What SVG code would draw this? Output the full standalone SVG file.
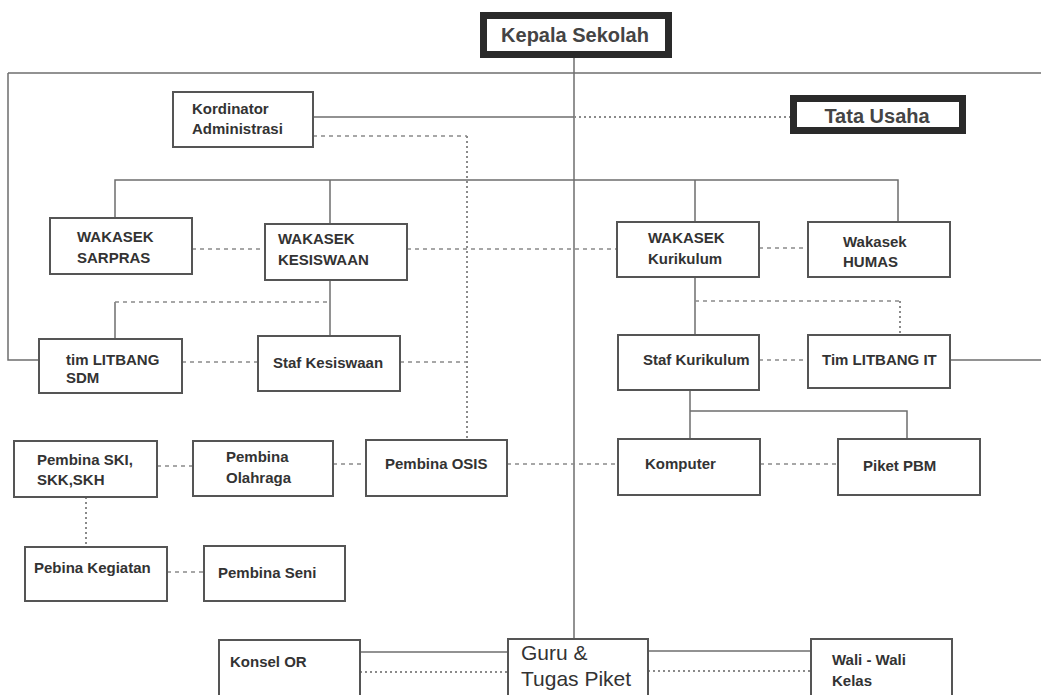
<svg xmlns="http://www.w3.org/2000/svg" width="1041" height="695" viewBox="0 0 1041 695">
<style>
.bg{fill:#ffffff}
.box{fill:#ffffff;stroke:#555555;stroke-width:2}
.thick{fill:#ffffff;stroke:#2a2a2a;stroke-width:7}
.t{font-family:"Liberation Sans",Arial,sans-serif;font-weight:bold;font-size:15px;fill:#333333}
.big{font-family:"Liberation Sans",Arial,sans-serif;font-weight:bold;font-size:20px;fill:#444444}
.reg{font-family:"Liberation Sans",Arial,sans-serif;font-size:21px;fill:#333333}
.solid{fill:none;stroke:#6e6e6e;stroke-width:1.5}
.dash{fill:none;stroke:#8a8a8a;stroke-width:1.5;stroke-dasharray:4 4}
.dot{fill:none;stroke:#8a8a8a;stroke-width:2;stroke-dasharray:2 3}
</style>
<rect class="bg" x="0" y="0" width="1041" height="695"/>
<g id="connectors">
<path class="solid" d="M574 57V639"/>
<path class="solid" d="M8 73H1041"/>
<path class="solid" d="M8 73V360H39"/>
<path class="solid" d="M313 117H574"/>
<path class="solid" d="M115 218V180H898V222M330 180V224M695 180V222"/>
<path class="solid" d="M330 280V336"/>
<path class="solid" d="M115 302V339"/>
<path class="solid" d="M695 277V335"/>
<path class="solid" d="M950 360H1041"/>
<path class="solid" d="M690 390V439M690 411H907V439"/>
<path class="solid" d="M360 652H508"/>
<path class="solid" d="M648 651H811"/>
<path class="dash" d="M313 136H467"/>
<path class="dot" d="M467 136V440"/>
<path class="dot" d="M574 117H790"/>
<path class="dash" d="M192 249H265"/>
<path class="dash" d="M407 249H617"/>
<path class="dash" d="M759 248H808"/>
<path class="dash" d="M115 302H330"/>
<path class="dash" d="M695 301H900"/>
<path class="dot" d="M900 301V335"/>
<path class="dash" d="M182 362H258"/>
<path class="dash" d="M400 362H467"/>
<path class="dash" d="M759 360H808"/>
<path class="dash" d="M157 466H193"/>
<path class="dash" d="M333 464H366"/>
<path class="dash" d="M507 464H618"/>
<path class="dash" d="M760 464H838"/>
<path class="dot" d="M86 497V547"/>
<path class="dash" d="M167 572H204"/>
<path class="dot" d="M360 672H508"/>
<path class="dot" d="M648 671H811"/>
</g>
<g id="kepala-sekolah">
<rect class="thick" x="483.5" y="15.5" width="185" height="39"/>
<text class="big" x="575" y="42" text-anchor="middle">Kepala Sekolah</text>
</g>
<g id="tata-usaha">
<rect class="thick" x="793.5" y="98.5" width="169" height="32"/>
<text class="big" x="877" y="123" text-anchor="middle">Tata Usaha</text>
</g>
<g id="kordinator-administrasi">
<rect class="box" x="173" y="92" width="140" height="55"/>
<text class="t" x="192" y="114">Kordinator</text>
<text class="t" x="192" y="134">Administrasi</text>
</g>
<g id="wakasek-sarpras">
<rect class="box" x="50" y="218" width="142" height="56"/>
<text class="t" x="77" y="242">WAKASEK</text>
<text class="t" x="77" y="263">SARPRAS</text>
</g>
<g id="wakasek-kesiswaan">
<rect class="box" x="265" y="224" width="142" height="56"/>
<text class="t" x="278" y="244">WAKASEK</text>
<text class="t" x="278" y="265">KESISWAAN</text>
</g>
<g id="wakasek-kurikulum">
<rect class="box" x="617" y="222" width="142" height="55"/>
<text class="t" x="648" y="243">WAKASEK</text>
<text class="t" x="648" y="264">Kurikulum</text>
</g>
<g id="wakasek-humas">
<rect class="box" x="808" y="222" width="142" height="55"/>
<text class="t" x="843" y="247">Wakasek</text>
<text class="t" x="843" y="267">HUMAS</text>
</g>
<g id="tim-litbang-sdm">
<rect class="box" x="39" y="339" width="143" height="54"/>
<text class="t" x="66" y="365">tim LITBANG</text>
<text class="t" x="66" y="383">SDM</text>
</g>
<g id="staf-kesiswaan">
<rect class="box" x="258" y="336" width="142" height="55"/>
<text class="t" x="273" y="368">Staf Kesiswaan</text>
</g>
<g id="staf-kurikulum">
<rect class="box" x="618" y="335" width="141" height="55"/>
<text class="t" x="643" y="365">Staf Kurikulum</text>
</g>
<g id="tim-litbang-it">
<rect class="box" x="808" y="335" width="142" height="53"/>
<text class="t" x="822" y="365">Tim LITBANG IT</text>
</g>
<g id="pembina-ski">
<rect class="box" x="14" y="441" width="143" height="56"/>
<text class="t" x="37" y="465">Pembina SKI,</text>
<text class="t" x="37" y="485">SKK,SKH</text>
</g>
<g id="pembina-olahraga">
<rect class="box" x="193" y="441" width="140" height="55"/>
<text class="t" x="226" y="462">Pembina</text>
<text class="t" x="226" y="483">Olahraga</text>
</g>
<g id="pembina-osis">
<rect class="box" x="366" y="440" width="141" height="56"/>
<text class="t" x="385" y="469">Pembina OSIS</text>
</g>
<g id="komputer">
<rect class="box" x="618" y="439" width="142" height="56"/>
<text class="t" x="645" y="469">Komputer</text>
</g>
<g id="piket-pbm">
<rect class="box" x="838" y="439" width="142" height="56"/>
<text class="t" x="863" y="471">Piket PBM</text>
</g>
<g id="pebina-kegiatan">
<rect class="box" x="25" y="547" width="142" height="54"/>
<text class="t" x="34" y="573">Pebina Kegiatan</text>
</g>
<g id="pembina-seni">
<rect class="box" x="204" y="546" width="141" height="55"/>
<text class="t" x="218" y="578">Pembina Seni</text>
</g>
<g id="konsel-or">
<rect class="box" x="219" y="640" width="141" height="70"/>
<text class="t" x="230" y="667">Konsel OR</text>
</g>
<g id="guru-tugas-piket">
<rect class="box" x="508" y="639" width="140" height="70"/>
<text class="reg" x="521" y="660">Guru &amp;</text>
<text class="reg" x="521" y="686">Tugas Piket</text>
</g>
<g id="wali-kelas">
<rect class="box" x="811" y="639" width="141" height="70"/>
<text class="t" x="832" y="665">Wali - Wali</text>
<text class="t" x="832" y="686">Kelas</text>
</g>
</svg>
